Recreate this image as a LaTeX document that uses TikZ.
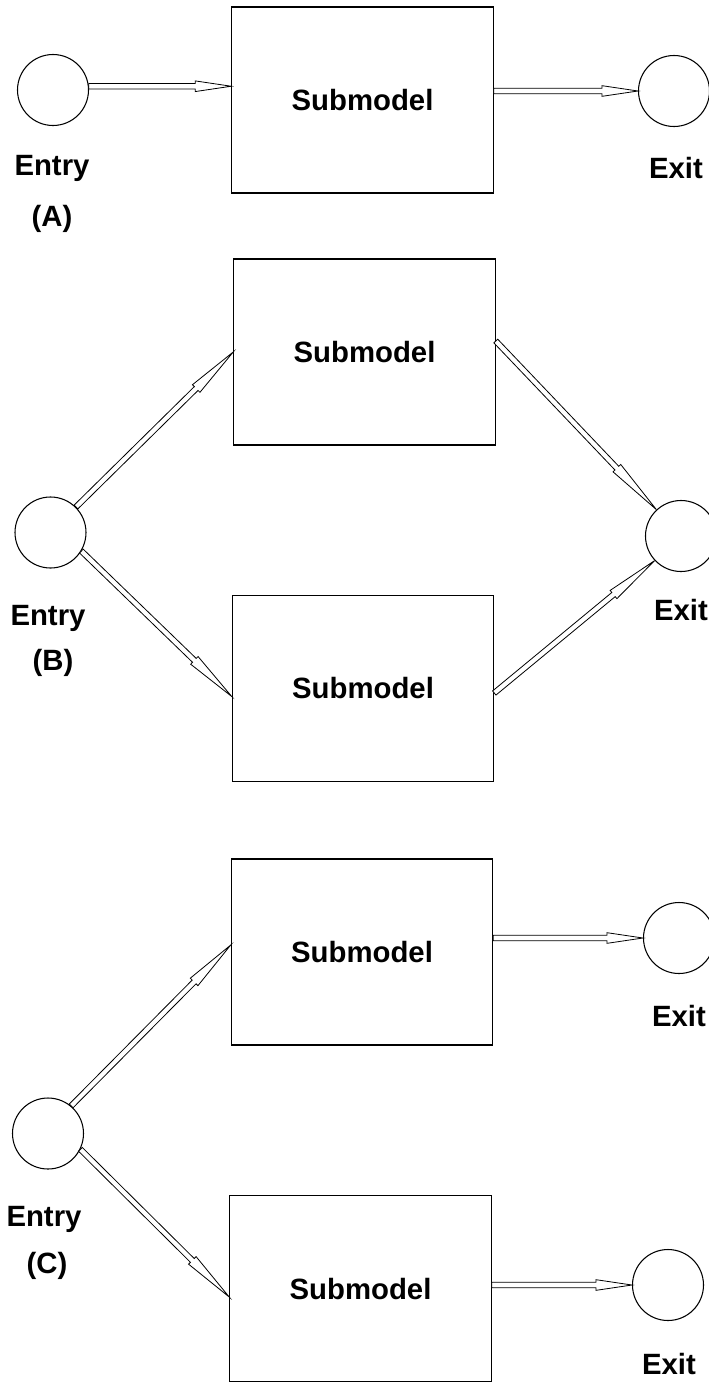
\documentclass[tikz,border=0pt]{standalone}
\usepackage{fontspec}
\usetikzlibrary{calc}
\newfontfamily\labelfont{Liberation Sans}
\newcommand{\lbl}{\labelfont\bfseries\fontsize{22}{26}\selectfont}

% Outlined (hollow) arrow from #2 to #3; optional #1 = head length
\newcommand{\hollowarrow}[3][27pt]{%
  \path (#2) coordinate (ha-a) (#3) coordinate (ha-b);
  \path ($(ha-b)!#1!(ha-a)$) coordinate (ha-h);
  \draw[flow]
    ($(ha-a)!2pt!90:(ha-b)$) -- ($(ha-h)!2pt!90:(ha-b)$) --
    ($(ha-h)!4pt!90:(ha-b)$) -- (ha-b) --
    ($(ha-h)!4pt!-90:(ha-b)$) -- ($(ha-h)!2pt!-90:(ha-b)$) --
    ($(ha-a)!2pt!-90:(ha-b)$) -- cycle;
}

\begin{document}
\begin{tikzpicture}[x=0.75pt,y=-0.75pt,
  block/.style={draw,line width=0.9pt,minimum width=196pt,minimum height=139.5pt,inner sep=0pt,font=\lbl},
  port/.style={draw,circle,line width=0.8pt,minimum size=53.25pt,inner sep=0pt},
  tag/.style={anchor=base,inner sep=0pt,font=\lbl},
  flow/.style={draw,fill=white,line width=0.6pt,line join=miter}]

\path[use as bounding box] (0,0) rectangle (709,1382);

% ---- (A) single submodel in series ----
\node[port]  (eA) at (53,90) {};
\node[block] (sA) at (362.5,100) {Submodel};
\node[port]  (xA) at (674,91) {};
\node[tag] (tEA) at (52,175) {Entry};
\node[tag] (tA)  at (52,226.5) {(A)};
\node[tag] (tXA) at (676,178) {Exit};

\hollowarrow{eA.6}{sA.west |- eA.6}
\hollowarrow{sA.east |- xA.west}{xA.west}

% ---- (B) two parallel submodels, common exit ----
\node[port]  (eB)  at (50.5,532.5) {};
\node[block] (sB1) at (364.5,352) {Submodel};
\node[block] (sB2) at (363,688.5) {Submodel};
\node[port]  (xB)  at (681,536) {};
\node[tag] (tEB) at (48,625) {Entry};
\node[tag] (tB)  at (53,670.5) {(B)};
\node[tag] (tXB) at (681,620) {Exit};

\hollowarrow[39pt]{eB.45}{sB1.west}
\hollowarrow[39pt]{eB.-31}{$(sB2.west)+(0,8)$}
\hollowarrow[43pt]{$(sB1.east)+(0,-11)$}{xB.133}
\hollowarrow[40pt]{$(sB2.east)+(0,4.5)$}{xB.223}

% ---- (C) two parallel submodels, separate exits ----
\node[port]  (eC)  at (48,1133.5) {};
\node[block] (sC1) at (362,952) {Submodel};
\node[block] (sC2) at (360.5,1288.5) {Submodel};
\node[port]  (xC1) at (679,938) {};
\node[port]  (xC2) at (668,1285) {};
\node[tag] (tEC)  at (44,1226) {Entry};
\node[tag] (tC)   at (47,1273.5) {(C)};
\node[tag] (tXC1) at (679,1026) {Exit};
\node[tag] (tXC2) at (669,1374) {Exit};

\hollowarrow[39pt]{eC.50}{$(sC1.west)+(0,-7)$}
\hollowarrow[39pt]{eC.-26}{$(sC2.west)+(0,8.5)$}
\hollowarrow{sC1.east |- xC1.west}{xC1.west}
\hollowarrow{sC2.east |- xC2.west}{xC2.west}

\end{tikzpicture}
\end{document}
